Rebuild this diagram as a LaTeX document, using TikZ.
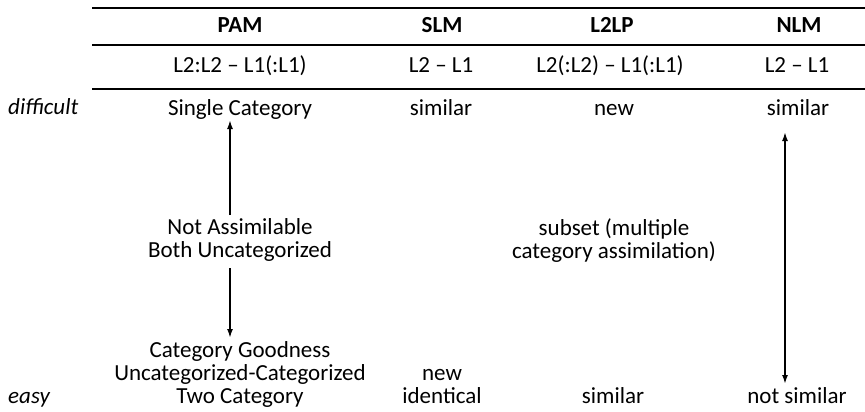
\documentclass[tikz,border=0pt]{standalone}
\usepackage{fontspec}
\setmainfont{Carlito}
\usetikzlibrary{arrows.meta}
\begin{document}
\begin{tikzpicture}[x=1pt,y=-1pt,
  txt/.style={anchor=base,inner sep=0pt,font=\fontsize{23}{23}\selectfont},
  head/.style={txt,font=\fontsize{23}{23}\selectfont\bfseries},
  side/.style={anchor=base west,inner sep=0pt,font=\fontsize{23}{23}\selectfont\itshape},
  rulel/.style={line width=1.9pt},
  arr/.style={line width=1.7pt,-{Latex[length=9pt,width=6pt]}},
  darr/.style={line width=1.7pt,{Latex[length=9pt,width=6pt]}-{Latex[length=9pt,width=6pt]}}]
\useasboundingbox (0,0) rectangle (865,412);
% rules
\coordinate (r1a) at (92,8);  \coordinate (r1b) at (865,8);
\coordinate (r2a) at (92,45); \coordinate (r2b) at (865,45);
\coordinate (r3a) at (92,89); \coordinate (r3b) at (865,89);
\draw[rulel] (r1a) -- (r1b);
\draw[rulel] (r2a) -- (r2b);
\draw[rulel] (r3a) -- (r3b);
% header
\node[head] (hpam) at (240,33) {PAM};
\node[head] (hslm) at (442,33) {SLM};
\node[head] (hl2lp) at (612,33) {L2LP};
\node[head] (hnlm) at (799,33) {NLM};
% second row
\node[txt] (fpam) at (240,73) {L2:L2 – L1(:L1)};
\node[txt] (fslm) at (441,73) {L2 – L1};
\node[txt] (fl2lp) at (610,73) {L2(:L2) – L1(:L1)};
\node[txt] (fnlm) at (797,73) {L2 – L1};
% side labels
\node[side] (diff) at (8,114) {difficult};
\node[side] (easy) at (8,403) {easy};
% difficult row
\node[txt] (single) at (240,115) {Single Category};
\node[txt] (slmsim) at (441,115) {similar};
\node[txt] (l2new) at (614,115) {new};
\node[txt] (nlmsim) at (798,115) {similar};
% middle
\node[txt] (notassim) at (240,234) {Not Assimilable};
\node[txt] (bothunc) at (240,257) {Both Uncategorized};
\node[txt] (subset1) at (614,235) {subset (multiple};
\node[txt] (subset2) at (614,258) {category assimilation)};
% easy rows
\node[txt] (catgood) at (240,357) {Category Goodness};
\node[txt] (unccat) at (240,380) {Uncategorized-Categorized};
\node[txt] (twocat) at (240,403) {Two Category};
\node[txt] (slmnew) at (442,380) {new};
\node[txt] (slmid) at (442,403) {identical};
\node[txt] (l2sim) at (613,403) {similar};
\node[txt] (nlmnot) at (797,403) {not similar};
% arrows
\coordinate (pamupS) at (230,215); \coordinate (pamupE) at (230,120);
\coordinate (pamdnS) at (230,268); \coordinate (pamdnE) at (230,338);
\coordinate (nlmT) at (785,132); \coordinate (nlmB) at (785,384);
\draw[arr] (pamupS) -- (pamupE);
\draw[arr] (pamdnS) -- (pamdnE);
\draw[darr] (nlmT) -- (nlmB);
\end{tikzpicture}
\end{document}
